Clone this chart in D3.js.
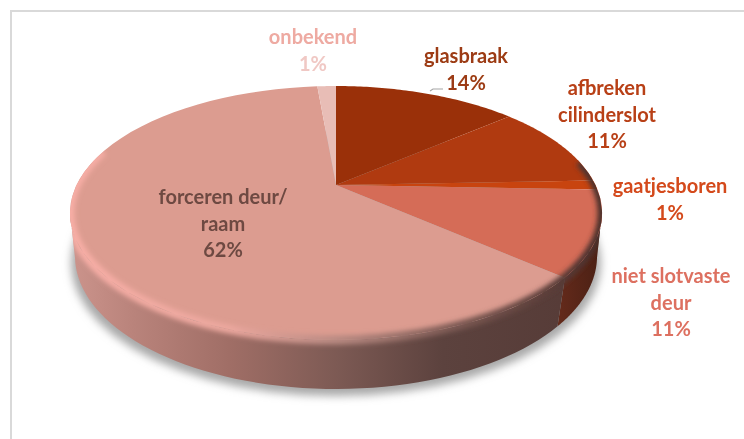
<!DOCTYPE html>
<html><head><meta charset="utf-8">
<script src="https://cdn.jsdelivr.net/npm/d3@7"></script>
<style>html,body{margin:0;padding:0;background:#fff}svg{display:block}
text{font-family:Lato,"Open Sans",sans-serif;font-weight:700;text-anchor:middle}</style>
</head><body><svg id="c" width="744" height="439"></svg>
<script>
// data (top-face shares read from the slice boundaries; labels as printed)
const categories = ["glasbraak","afbreken cilinderslot","gaatjesboren","niet slotvaste deur","forceren deur/raam","onbekend"];
const sliceValues = [13.8, 10.6, 1.2, 10.8, 62.2, 1.4];
const printedPercent = ["14%","11%","1%","11%","62%","1%"];
const sliceColors = ["#9a3009","#b03a10","#c8440f","#d56c57","#dc9c90","#e8bdb6"];
const wallColors = [null,null,null,"wallB","wallA",null];
const labelLines = [["glasbraak"],["afbreken","cilinderslot"],["gaatjesboren"],["niet slotvaste","deur"],["forceren deur/","raam"],["onbekend"]];
const labelColors = ["#9c3a12","#b83f16","#d4491a","#dd7060","#6e4a42","#eeaaa2"];
const percentColors = ["#9c3a12","#b83f16","#d4491a","#dd7060","#6e4a42","#f0c8c4"];
const labelX = [466,607,670,671,223,313];
const labelY = [63,95,193,283,204,44];

const svg = d3.select("#c");
const defs = svg.append("defs");
const blur = (id,s)=>defs.append("filter").attr("id",id).attr("x","-20%").attr("y","-20%").attr("width","140%").attr("height","140%")
  .append("feGaussianBlur").attr("stdDeviation",s);
blur("b6",4.5); blur("b2",2.6); blur("t",0.25);
function grad(id,stops){
  const g=defs.append("linearGradient").attr("id",id).attr("gradientUnits","userSpaceOnUse")
    .attr("x1",70).attr("x2",602).attr("y1",0).attr("y2",0);
  stops.forEach(s=>g.append("stop").attr("offset",s[0]).attr("stop-color",s[1]));
}
grad("wallA",[[0,"#cc948c"],[0.12,"#b9837b"],[0.3,"#a06e66"],[0.5,"#7d5a54"],[0.7,"#5c423e"],[1,"#553a36"]]);
grad("wallB",[[0,"#6a2c1c"],[0.9,"#6a2c1c"],[1,"#4a2014"]]);
grad("rim",[[0,"#f8aea6"],[0.3,"#eba79e"],[0.5,"#b98a82"],[0.72,"#7d5a54"],[1,"#4a2f2b"]]);

// perspective projection of a unit disk
const topDisk = {cx:336, cy:185, A:259.5, B:120.8, k:0.2205};
const botDisk = {cx:336, cy:230, A:256, B:127.9, k:0.1955};
function project(d,a){ // a: clockwise from 12 o'clock
  const x=Math.sin(a), y=-Math.cos(a), w=1-d.k*y;
  return [d.cx+d.A*x/w, d.cy+d.B*y/w];
}
const arcAngles = (a0,a1)=>d3.range(0,61).map(i=>a0+(a1-a0)*i/60);
const line = d3.line();
const arcs = d3.pie().sort(null).value(d=>d)(sliceValues);
const full = arcAngles(0,2*Math.PI);

// frame
svg.append("path").attr("d","M11 439V11H744").attr("fill","none").attr("stroke","#d9d9d9").attr("stroke-width",2);

// shadow
svg.append("path").attr("d",line(full.map(a=>{const p=project(botDisk,a);return [336+(p[0]-336)*1.015,p[1]+7];})))
  .attr("fill","#a8a8a8").attr("filter","url(#b6)");

// side wall
const PI=Math.PI;
const wallStart = PI/2+0.21, wallEnd = 3*PI/2-0.21;
const clip=defs.append("clipPath").attr("id","rimclip");
clip.append("path").attr("d",line(full.map(a=>project(topDisk,a)))+"Z");
const wallAs=arcAngles(wallStart,wallEnd);
clip.append("path").attr("d",line(wallAs.map(a=>project(topDisk,a)).concat(wallAs.slice().reverse().map(a=>project(botDisk,a))))+"Z");
arcs.forEach((s,i)=>{
  if(!wallColors[i]) return;
  const a0=Math.max(s.startAngle,wallStart), a1=Math.min(s.endAngle,wallEnd);
  const as=arcAngles(a0,a1);
  const pts=as.map(a=>project(topDisk,a)).concat(as.slice().reverse().map(a=>project(botDisk,a)));
  svg.append("path").attr("d",line(pts)+"Z").attr("fill",`url(#${wallColors[i]})`);
});

// top face slices
arcs.forEach((s,i)=>{
  const pts=[[topDisk.cx,topDisk.cy]].concat(arcAngles(s.startAngle,s.endAngle).map(a=>project(topDisk,a)));
  svg.append("path").attr("d",line(pts)+"Z").attr("fill",sliceColors[i]);
});

// bevel on the rim
svg.append("g").attr("clip-path","url(#rimclip)")
  .append("path").attr("d",line(arcAngles(PI/2-0.2,3*PI/2+0.3).map(a=>project(topDisk,a))))
  .attr("fill","none").attr("stroke","url(#rim)").attr("stroke-width",9).attr("filter","url(#b2)");

// leader line
svg.append("path").attr("d","M430 91l3-2h10").attr("fill","none").attr("stroke","#a6a6a6").attr("stroke-width",1.2);

// labels
const lh=26.5, fs=20;
const g=svg.append("g").attr("font-size",fs).attr("filter","url(#t)");
categories.forEach((c,i)=>{
  labelLines[i].forEach((t,j)=>{
    g.append("text").attr("x",labelX[i]).attr("y",labelY[i]+j*lh).attr("fill",labelColors[i]).text(t);
  });
  g.append("text").attr("x",labelX[i]).attr("y",labelY[i]+labelLines[i].length*lh).attr("fill",percentColors[i]).text(printedPercent[i]);
});
</script></body></html>
